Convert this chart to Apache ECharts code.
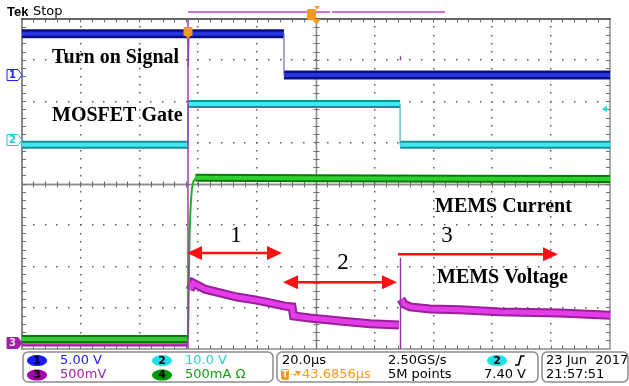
<!DOCTYPE html>
<html><head><meta charset="utf-8">
<script src="https://cdn.jsdelivr.net/npm/echarts@6/dist/echarts.min.js"></script>
<style>html,body{margin:0;padding:0;background:#fff;}#c{width:629px;height:386px;}</style>
</head><body><div id="c"></div>
<script>
// Time: microseconds from the left edge of the screen (20 us/div, 10 div)
// Level: vertical divisions from the bottom of the graticule (8 div)
const ch1High = [[0, 7.64], [89.1, 7.64]];
const ch1Low = [[89.1, 6.64], [200, 6.64]];
const ch1Edges = [[[56.5, 7.64], [56.6, 6.84], [56.8, 7.64]], [[89.1, 7.64], [89.1, 6.64]]];

const ch2LowBefore = [[0, 4.95], [56.5, 4.95]];
const ch2High = [[56.5, 5.94], [128.6, 5.94]];
const ch2LowAfter = [[128.6, 4.95], [200, 4.95]];
const ch2Edges = [[[56.5, 4.95], [56.5, 5.94]], [[128.6, 5.94], [128.6, 4.95]]];

const ch4Low = [[0, 0.24], [56.4, 0.24]];
const ch4Rise = [[56.46, 0.24], [56.63, 0.95], [56.8, 1.92], [56.97, 2.64], [57.14, 3.13], [57.48, 3.61], [57.82, 3.90], [58.33, 4.07], [59.18, 4.15]];
const ch4High = [[59.0, 4.15], [100, 4.14], [150, 4.13], [200, 4.12]];

const ch3Before = [[0, 0.17], [56.4, 0.17]];
const ch3Decay = [[57.14, 1.43], [58.16, 1.60], [59.52, 1.55], [62.24, 1.45], [67.35, 1.36], [73.13, 1.26], [79.25, 1.19], [84.35, 1.12], [89.46, 1.04], [91.84, 1.02], [92.35, 0.80], [97.96, 0.75], [108.16, 0.68], [118.37, 0.61], [128.23, 0.58]];
const ch3Tail = [[128.91, 1.21], [129.93, 1.09], [131.97, 1.02], [138.78, 0.97], [148.98, 0.95], [162.59, 0.90], [182.99, 0.87], [200, 0.82]];
const ch3Edges = [[[56.46, 0], [56.46, 8]], [[128.74, 0], [128.74, 2.21]], [[128.74, 7.0], [128.74, 7.1]]];

// interval arrows (phases 1, 2, 3)
const arrowFrom = [56.12, 88.78, 127.89];
const arrowTo = [88.44, 127.55, 182.31];
const arrowLevel = [2.33, 1.62, 2.30];
const arrowBothEnds = [1, 1, 0];
const phaseText = ['1', '2', '3'];
const phaseTime = [72.8, 109.2, 144.6];
const phaseLevel = [2.74, 2.08, 2.74];

// graticule: 10 x 8 divisions, 5 minor steps per division
const xDivLines = [20, 40, 60, 80, 120, 140, 160, 180];
const yDivLines = [1, 2, 3, 5, 6, 7];
const xCenter = 100, yCenter = 4, minorSteps = 5;

const chart = echarts.init(document.getElementById('c'), null, {renderer: 'canvas'});

function segSeries(seg, color, width, z) {
  return {type: 'line', data: seg, xAxisIndex: 0, yAxisIndex: 0, showSymbol: false, symbol: 'none',
    lineStyle: {color: color, width: width, cap: 'butt', join: 'miter'}, z: z, silent: true, animation: false};
}
function band(segs, outer, inner, wo, wi, z) {
  const out = [];
  segs.forEach(s => { out.push(segSeries(s, outer, wo, z)); out.push(segSeries(s, inner, wi, z + 1)); });
  return out;
}
function thin(segs, color, w, z) { return segs.map(s => segSeries(s, color, w, z)); }

const grayAx = '#8c8c8c';
function xAx(pos, offset, lineColor, lw) {
  return {type: 'value', min: 0, max: 200, interval: 20, position: pos, offset: offset, gridIndex: 0,
    axisLine: {show: true, onZero: false, lineStyle: {color: lineColor, width: lw}},
    axisTick: {show: false}, minorTick: {show: false}, axisLabel: {show: false},
    splitLine: {show: false}, minorSplitLine: {show: false}};
}
function yAx(pos, offset, lineColor, lw) {
  return {type: 'value', min: 0, max: 8, interval: 1, position: pos, offset: offset, gridIndex: 0,
    axisLine: {show: true, onZero: false, lineStyle: {color: lineColor, width: lw}},
    axisTick: {show: false}, minorTick: {show: false}, axisLabel: {show: false},
    splitLine: {show: false}, minorSplitLine: {show: false}};
}

let series = [];
series = series.concat(band([ch3Before, ch3Decay, ch3Tail], '#9a209a', '#e43ce8', 9, 5, 3));
series = series.concat(band([ch4Low, ch4High], '#0a7a0a', '#2ed02e', 8, 4, 5));
series = series.concat(thin([ch4Rise], '#22b022', 2, 6));
series = series.concat(band([ch2LowBefore, ch2High, ch2LowAfter], '#1a8f9a', '#40e8f0', 8, 4, 7));
series = series.concat(band([ch1High, ch1Low], '#0c0c88', '#2436dc', 9, 4, 9));
series = series.concat(thin(ch1Edges, '#6a6ab8', 1.2, 11));
series = series.concat(thin(ch2Edges, '#40b0b8', 1.2, 11));
series = series.concat(thin(ch3Edges, '#9a30a8', 1.4, 12));

series.push({
  type: 'custom', xAxisIndex: 0, yAxisIndex: 0, z: 20, silent: true, animation: false,
  data: arrowFrom.map((f, i) => [f, arrowTo[i], arrowLevel[i], arrowBothEnds[i]]),
  encode: {x: [0, 1], y: 2},
  renderItem: function (params, api) {
    const a = api.coord([api.value(0), api.value(2)]);
    const b = api.coord([api.value(1), api.value(2)]);
    const both = api.value(3) === 1;
    const hl = 15, hw = 7, red = '#ff1010';
    const ch = [
      {type: 'line', shape: {x1: a[0] + (both ? hl - 1 : 0), y1: a[1], x2: b[0] - hl + 1, y2: b[1]}, style: {stroke: red, lineWidth: 2.5}},
      {type: 'polygon', shape: {points: [[b[0], b[1]], [b[0] - hl, b[1] - hw], [b[0] - hl, b[1] + hw]]}, style: {fill: red}}
    ];
    if (both) ch.push({type: 'polygon', shape: {points: [[a[0], a[1]], [a[0] + hl, a[1] - hw], [a[0] + hl, a[1] + hw]]}, style: {fill: red}});
    return {type: 'group', children: ch};
  }
});
series.push({
  type: 'custom', xAxisIndex: 0, yAxisIndex: 0, z: 20, silent: true, animation: false,
  data: phaseTime.map((t, i) => [t, phaseLevel[i], i]),
  encode: {x: 0, y: 1},
  renderItem: function (params, api) {
    const p = api.coord([api.value(0), api.value(1)]);
    return {type: 'text', x: p[0], y: p[1], style: {text: phaseText[api.value(2)], font: '23px "Liberation Serif"', fill: '#000', align: 'center', verticalAlign: 'middle'}};
  }
});

const sans = '"DejaVu Sans"';
function txt(x, y, s, font, fill, align) {
  return {type: 'text', x: x, y: y, z: 50, style: {text: s, font: font, fill: fill, align: align || 'left', verticalAlign: 'middle'}};
}
function badge(cx, cy, fill, label) {
  return [{type: 'ellipse', z: 50, shape: {cx: cx, cy: cy, rx: 10, ry: 5.6}, style: {fill: fill}},
          txt(cx, cy + 0.5, label, 'bold 11px ' + sans, '#000', 'center')];
}
function chMarker(cy, stroke, fill, label, tcol) {
  return [{type: 'polygon', z: 50, shape: {points: [[7, cy - 5.5], [18, cy - 5.5], [22, cy], [18, cy + 5.5], [7, cy + 5.5]]}, style: {fill: fill, stroke: stroke, lineWidth: 1}},
          txt(12.5, cy + 0.5, label, 'bold 10px ' + sans, tcol, 'center')];
}
const orange = '#f59a1a';
let g = [
  txt(7, 12, 'Tek', 'bold 13px "Liberation Sans"', '#000'),
  txt(33, 12, 'Stop', '13px ' + sans, '#000'),
  {type: 'line', z: 50, shape: {x1: 188, y1: 12, x2: 330, y2: 12}, style: {stroke: '#d070d0', lineWidth: 2}},
  {type: 'line', z: 50, shape: {x1: 332, y1: 12, x2: 445, y2: 12}, style: {stroke: '#d070d0', lineWidth: 2}},
  {type: 'rect', z: 51, shape: {x: 307, y: 9, width: 9, height: 11, r: 1}, style: {fill: orange}},
  txt(311.5, 14.5, 'T', 'bold 9px ' + sans, '#fff', 'center'),
  {type: 'polygon', z: 51, shape: {points: [[312, 19], [321, 19], [316.5, 24.5]]}, style: {fill: orange}},
  {type: 'polygon', z: 51, shape: {points: [[314, 6], [320, 6], [317, 9.5]]}, style: {fill: orange}},
  {type: 'rect', z: 51, shape: {x: 183.5, y: 27, width: 9, height: 9, r: 1}, style: {fill: orange}},
  {type: 'polygon', z: 51, shape: {points: [[184.5, 35], [191.5, 35], [188, 38.5]]}, style: {fill: orange}},
  txt(188, 31.5, 'T', 'bold 8px ' + sans, '#fff', 'center'),
  {type: 'polygon', z: 51, shape: {points: [[602, 109], [607, 105.5], [607, 112.5]]}, style: {fill: '#30d8e0'}},
  txt(52, 58, 'Turn on Signal', 'bold 20px "Liberation Serif"', '#000'),
  txt(52, 116, 'MOSFET Gate', 'bold 20px "Liberation Serif"', '#000'),
  txt(435, 207, 'MEMS Current', 'bold 20px "Liberation Serif"', '#000'),
  txt(437, 278, 'MEMS Voltage', 'bold 20px "Liberation Serif"', '#000'),
  {type: 'rect', z: 50, shape: {x: 23, y: 352, width: 250, height: 30, r: 5}, style: {fill: 'none', stroke: grayAx, lineWidth: 1.5}},
  {type: 'rect', z: 50, shape: {x: 277, y: 352, width: 261, height: 30, r: 5}, style: {fill: 'none', stroke: grayAx, lineWidth: 1.5}},
  {type: 'rect', z: 50, shape: {x: 542, y: 352, width: 86, height: 30, r: 5}, style: {fill: 'none', stroke: grayAx, lineWidth: 1.5}},
  txt(60, 360.5, '5.00 V', '13px ' + sans, '#2020ff'),
  txt(60, 374.5, '500mV', '13px ' + sans, '#a020a8'),
  txt(185, 360.5, '10.0 V', '13px ' + sans, '#22d0dc'),
  txt(185, 374.5, '500mA Ω', '13px ' + sans, '#10a010'),
  txt(282, 360.5, '20.0µs', '13px ' + sans, '#000'),
  {type: 'rect', z: 50, shape: {x: 281, y: 369, width: 8, height: 11, r: 2}, style: {fill: orange}},
  txt(285, 374.5, 'T', 'bold 9px ' + sans, '#fff', 'center'),
  txt(290, 374.5, '→', '8px ' + sans, orange),
  {type: 'polygon', z: 50, shape: {points: [[295, 371], [301, 371], [298, 376]]}, style: {fill: orange}},
  txt(302, 374.5, '43.6856µs', '13px ' + sans, orange),
  txt(388, 360.5, '2.50GS/s', '13px ' + sans, '#000'),
  txt(388, 374.5, '5M points', '13px ' + sans, '#000'),
  {type: 'polyline', z: 50, shape: {points: [[515, 365], [518.5, 365], [521, 356], [524.5, 356]]}, style: {stroke: '#000', lineWidth: 1.6, fill: 'none'}},
  txt(526, 374.5, '7.40 V', '13px ' + sans, '#000', 'right'),
  txt(546, 360.5, '23 Jun  2017', '13px ' + sans, '#000'),
  txt(546, 374.5, '21:57:51', '13px ' + sans, '#000')
];
g = g.concat(badge(37, 360.5, '#1a1aff', '1'), badge(37, 375, '#a000a8', '3'),
             badge(162, 360.5, '#22e0e8', '2'), badge(162, 375, '#009800', '4'),
             badge(497, 360.5, '#22e0e8', '2'));
g = g.concat(chMarker(75, '#2020ff', '#fff', '1', '#2020ff'),
             chMarker(140, '#22c8d4', '#fff', '2', '#22c8d4'),
             chMarker(343, '#a020a8', '#a020a8', '3', '#f4d4f4'));

chart.setOption({
  animation: false,
  backgroundColor: '#ffffff',
  grid: {left: 22, top: 19, width: 588, height: 330, show: false},
  xAxis: [xAx('bottom', 0, grayAx, 1.5), xAx('top', 0, '#333333', 1.5),
          xAx('bottom', -165, grayAx, 1.3), xAx('top', -165, grayAx, 1.3)],
  yAxis: [yAx('left', 0, grayAx, 2), yAx('right', 0, grayAx, 1.5),
          yAx('left', -294, grayAx, 1.3), yAx('right', -294, grayAx, 1.3)],
  series: series,
  graphic: {elements: g}
});

// graticule dots and ticks, positioned through the grid's own scales
const toPx = (t, lv) => chart.convertToPixel({gridIndex: 0}, [t, lv]);
const lb = toPx(0, 0), rt = toPx(200, 8);
const L = lb[0], B = lb[1], R = rt[0], T = rt[1];
const xs = (R - L) / 10 / minorSteps, ys = (B - T) / 8 / minorSteps;
const grat = [], dot = '#5a5a5a', tk = '#6e6e6e';
const hp = v => Math.round(v - 0.5) + 0.5;
xDivLines.forEach(v => {
  const px = Math.round(toPx(v, 0)[0]);
  for (let k = 1; k < 8 * minorSteps; k++) {
    const y = Math.round(B - k * ys);
    grat.push({type: 'rect', z: 2, silent: true, shape: {x: px - 1, y: y - 1, width: 1.5, height: 1.5}, style: {fill: dot}});
  }
});
yDivLines.forEach(v => {
  const py = Math.round(toPx(0, v)[1]);
  for (let k = 1; k < 10 * minorSteps; k++) {
    const x = Math.round(L + k * xs);
    grat.push({type: 'rect', z: 2, silent: true, shape: {x: x - 1, y: py - 1, width: 1.5, height: 1.5}, style: {fill: dot}});
  }
});
const cx = hp(toPx(xCenter, 0)[0]), cy = hp(toPx(0, yCenter)[1]);
for (let k = 1; k < 10 * minorSteps; k++) {
  const x = hp(L + k * xs);
  grat.push({type: 'line', z: 2, silent: true, shape: {x1: x, y1: T, x2: x, y2: T + 3.5}, style: {stroke: tk, lineWidth: 1}});
  grat.push({type: 'line', z: 2, silent: true, shape: {x1: x, y1: B, x2: x, y2: B - 3.5}, style: {stroke: tk, lineWidth: 1}});
  grat.push({type: 'line', z: 2, silent: true, shape: {x1: x, y1: cy - 3, x2: x, y2: cy + 3}, style: {stroke: tk, lineWidth: 1}});
}
for (let k = 1; k < 8 * minorSteps; k++) {
  const y = hp(B - k * ys);
  grat.push({type: 'line', z: 2, silent: true, shape: {x1: L, y1: y, x2: L + 4, y2: y}, style: {stroke: tk, lineWidth: 1}});
  grat.push({type: 'line', z: 2, silent: true, shape: {x1: R, y1: y, x2: R - 4, y2: y}, style: {stroke: tk, lineWidth: 1}});
  grat.push({type: 'line', z: 2, silent: true, shape: {x1: cx - 3, y1: y, x2: cx + 3, y2: y}, style: {stroke: tk, lineWidth: 1}});
}
chart.setOption({graphic: {elements: g.concat(grat)}});
</script></body></html>
